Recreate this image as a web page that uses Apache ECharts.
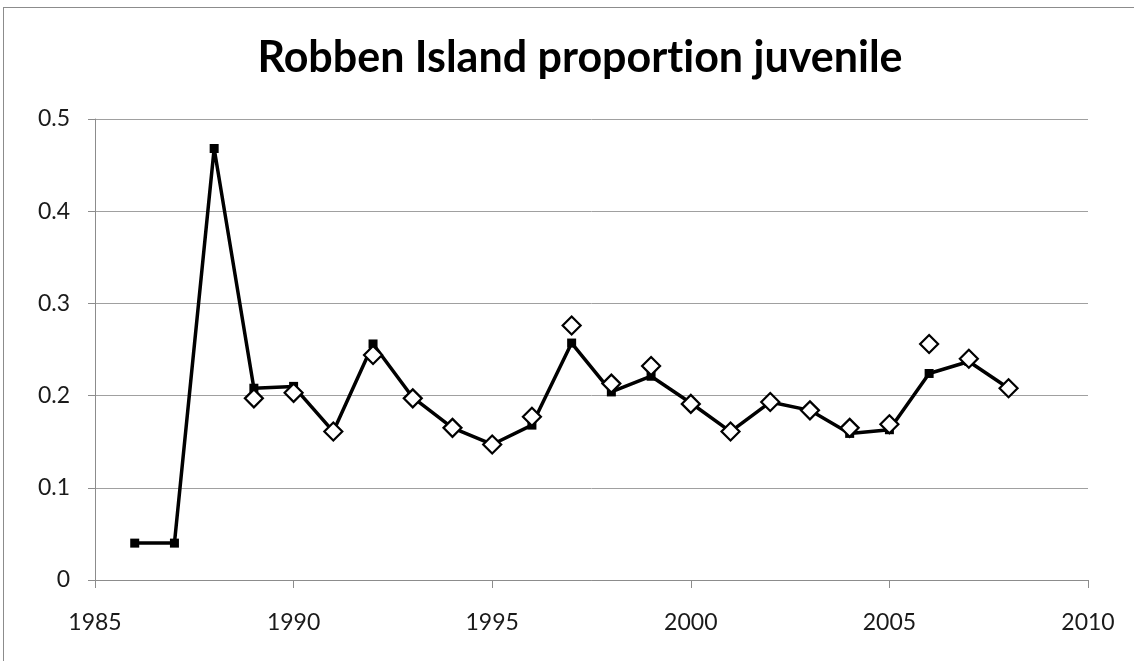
<!DOCTYPE html>
<html>
<head>
<meta charset="utf-8">
<script src="https://cdn.jsdelivr.net/npm/echarts@6/dist/echarts.min.js"></script>
<style>
  html, body { margin: 0; padding: 0; background: #fff; }
  #frame { position: absolute; left: 3px; top: 7px; width: 1140px; height: 660px; border: 1px solid #8c8c8c; box-sizing: border-box; }
  #chart { position: absolute; left: 0; top: 0; width: 1134px; height: 661px; }
</style>
</head>
<body>
<div id="frame"></div>
<div id="chart"></div>
<script>
// Proportion of juveniles counted at Robben Island, by year
const years = [1986, 1987, 1988, 1989, 1990, 1991, 1992, 1993, 1994, 1995, 1996, 1997,
               1998, 1999, 2000, 2001, 2002, 2003, 2004, 2005, 2006, 2007, 2008];
const lineValues = [0.040, 0.040, 0.468, 0.208, 0.210, 0.161, 0.256, 0.198, 0.165, 0.147, 0.168, 0.257,
                    0.204, 0.221, 0.192, 0.161, 0.193, 0.184, 0.159, 0.163, 0.224, 0.237, 0.208];
const diamondYears = [1989, 1990, 1991, 1992, 1993, 1994, 1995, 1996, 1997, 1998, 1999, 2000,
                      2001, 2002, 2003, 2004, 2005, 2006, 2007, 2008];
const diamondValues = [0.197, 0.203, 0.161, 0.244, 0.197, 0.165, 0.147, 0.177, 0.276, 0.213, 0.232, 0.191,
                       0.161, 0.193, 0.184, 0.165, 0.169, 0.256, 0.240, 0.208];

const fontFamily = 'Lato, "Open Sans", "Noto Sans", sans-serif';
const titleStyle = { fontFamily: fontFamily, fontSize: 43, fontWeight: 'bold', color: '#000' };

const chart = echarts.init(document.getElementById('chart'), null, { renderer: 'canvas' });
chart.setOption({
  backgroundColor: 'transparent',
  animation: false,
  title: {
    // two rich-text runs split between "t" and "i" so they stay separate glyphs
    text: '{t|Robben Island proport}{t|ion juvenile}',
    left: 575,
    top: 32,
    textAlign: 'center',
    textStyle: Object.assign({}, titleStyle, { rich: { t: titleStyle } })
  },
  grid: { left: 95, right: 46, top: 119, bottom: 81 },
  xAxis: {
    type: 'value',
    min: 1985,
    max: 2010,
    interval: 5,
    axisLine: { show: true, lineStyle: { color: '#8c8c8c', width: 1 } },
    axisTick: { show: true, length: 8, lineStyle: { color: '#8c8c8c' } },
    splitLine: { show: false },
    axisLabel: { margin: 31, fontFamily: fontFamily, fontSize: 23, color: '#1a1a1a',
                 formatter: v => String(v) }
  },
  yAxis: {
    type: 'value',
    min: 0,
    max: 0.5,
    interval: 0.1,
    axisLine: { show: true, lineStyle: { color: '#8c8c8c', width: 1 } },
    axisTick: { show: true, length: 7, lineStyle: { color: '#8c8c8c' } },
    splitLine: { show: true, lineStyle: { color: '#a0a0a0', width: 1 } },
    axisLabel: { margin: 25, fontFamily: fontFamily, fontSize: 23, color: '#1a1a1a',
                 formatter: v => String(Math.round(v * 10) / 10) }
  },
  series: [
    {
      type: 'line',
      data: years.map((y, i) => [y, lineValues[i]]),
      symbol: 'rect',
      symbolSize: 9,
      itemStyle: { color: '#000', opacity: 1 },
      lineStyle: { color: '#000', width: 3.5 },
      z: 2
    },
    {
      type: 'scatter',
      data: diamondYears.map((y, i) => [y, diamondValues[i]]),
      symbol: 'diamond',
      symbolSize: [18, 18],
      itemStyle: { color: '#fff', borderColor: '#000', borderWidth: 2.2, opacity: 1 },
      z: 3
    }
  ]
});
</script>
</body>
</html>
